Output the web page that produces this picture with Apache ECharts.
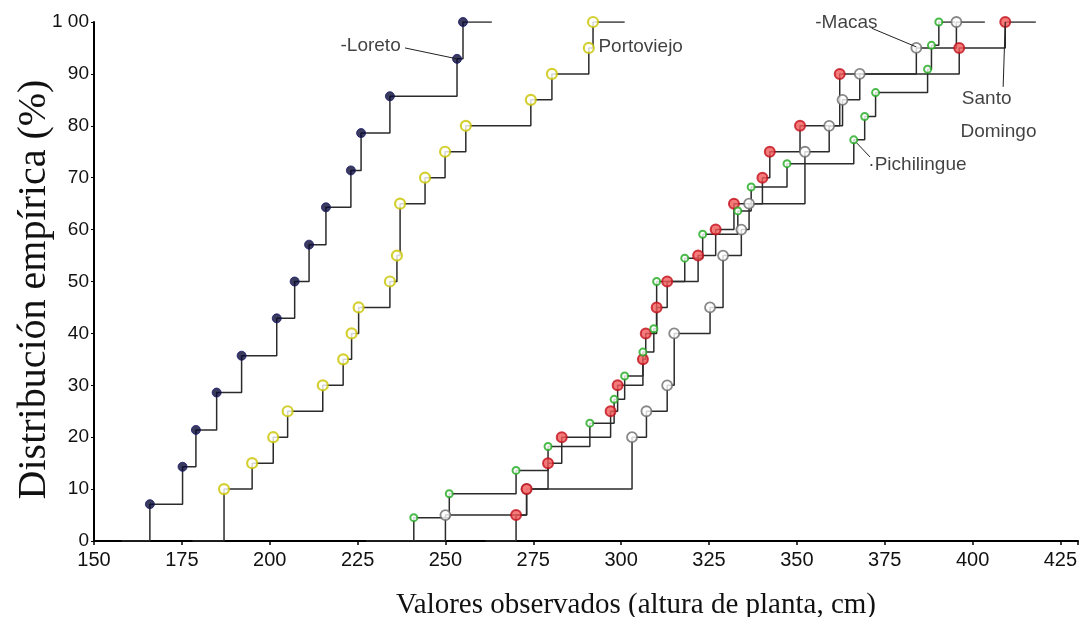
<!DOCTYPE html>
<html><head><meta charset="utf-8">
<script src="https://cdn.jsdelivr.net/npm/echarts@6/dist/echarts.min.js"></script>
<style>html,body{margin:0;padding:0;background:#fff}#c{width:1084px;height:617px}</style>
</head><body><div id="c"></div>
<script>
// ---- data ----
const xTickValues = [150,175,200,225,250,275,300,325,350,375,400,425];
const yTickLabels = ['0','10','20','30','40','50','60','70','80','90','1 00'];

const loretoX = [165.9,175.2,179.0,184.9,192.0,202.0,207.1,211.2,216.0,223.1,226.0,234.2,253.3,255.0];
const loretoP = [7.1,14.3,21.4,28.6,35.7,42.9,50.0,57.1,64.3,71.4,78.6,85.7,92.9,100];
const loretoRange = [157.9,263.2];

const portoviejoX = [187.0,195.0,201.0,205.1,215.1,220.9,223.3,225.3,234.2,236.2,237.1,244.2,249.9,255.8,274.3,280.3,290.8,292.0];
const portoviejoP = [10,15,20,25,30,35,40,45,50,55,65,70,75,80,85,90,95,100];
const portoviejoRange = [178.0,301.0];

const santoDomingoX = [270.1,273.1,279.2,283.1,297.0,299.0,306.2,307.0,310.1,313.1,321.9,326.9,332.1,340.2,342.3,350.9,362.2,396.2,409.3];
const santoDomingoP = [5,10,15,20,25,30,35,40,45,50,55,60,65,70,75,80,90,95,100];
const santoDomingoRange = [261.4,418.0];

const pichilingueX = [241.0,251.1,270.1,279.2,291.1,298.0,301.0,306.2,309.3,310.1,318.1,323.2,333.2,337.0,347.2,366.2,369.3,372.4,387.2,388.3,390.4];
const pichilingueP = [4.5,9.1,13.6,18.2,22.7,27.3,31.8,36.4,40.9,50.0,54.5,59.1,63.6,68.2,72.7,77.3,81.8,86.4,90.9,95.5,100];
const pichilingueRange = [227.4,395.0];

const macasX = [250.0,273.1,303.1,307.2,313.1,315.1,325.3,329.0,334.2,336.4,352.3,359.2,363.0,367.9,384.0,395.4];
const macasP = [5,10,20,25,30,40,45,55,60,65,75,80,85,90,95,100];
const macasRange = [241.0,403.5];

// ---- chart ----
const sansNarrow = '"Liberation Sans Narrow", "Liberation Sans", Arial, sans-serif';
const serif = '"Liberation Serif", "DejaVu Serif", serif';

function pts(xs, ps){ return xs.map((x,i)=>[x, ps[i]]); }
function steps(range, xs, ps){ return [[range[0],0]].concat(pts(xs,ps)).concat([[range[1],100]]); }

const lineColor = '#2b2b2b';
function stepSeries(name, range, xs, ps, z){
  return {type:'line', name:name+'-step', step:'end', data:steps(range,xs,ps), showSymbol:false, symbol:'none',
    lineStyle:{color:lineColor, width:1.5}, z:z, silent:true, animation:false};
}
function pointSeries(name, xs, ps, size, style, z){
  return {type:'scatter', name:name, data:pts(xs,ps), symbol:'circle', symbolSize:size, itemStyle:style, z:z, animation:false};
}
function leader(a, b){
  return {type:'line', data:[a,b], showSymbol:false, symbol:'none', lineStyle:{color:'#222', width:1}, z:6, silent:true, animation:false};
}
function note(text, at){
  return {type:'scatter', data:[at], symbolSize:1, itemStyle:{color:'transparent'}, z:7, silent:true, animation:false,
    label:{show:true, position:'right', distance:0, formatter:text, color:'#111', fontSize:19, fontFamily:sansNarrow}};
}

const chart = echarts.init(document.getElementById('c'), null, {renderer:'canvas'});
chart.setOption({
  backgroundColor:'#fff',
  animation:false,
  grid:{left:94, right:6, top:22, bottom:76, containLabel:false, outerBoundsMode:'none'},
  xAxis:{type:'value', min:150, max:430, interval:25,
    name:'Valores observados (altura de planta, cm)', nameLocation:'middle', nameGap:50, nameMoveOverlap:false,
    nameTextStyle:{fontFamily:serif, fontSize:29, color:'#111', padding:[0,0,0,100]},
    axisLine:{lineStyle:{color:'#000', width:2}},
    axisTick:{length:4, lineStyle:{color:'#000', width:1.5}},
    axisLabel:{margin:9, color:'#111', fontSize:20, fontFamily:sansNarrow,
      formatter:v=> xTickValues.indexOf(v) >= 0 ? String(v) : ''},
    splitLine:{show:false}},
  yAxis:{type:'value', min:0, max:100, interval:10,
    name:'Distribución empírica (%)', nameLocation:'middle', nameGap:40, nameRotate:90, nameMoveOverlap:false,
    nameTextStyle:{fontFamily:serif, fontSize:40, color:'#111', padding:[0,16,0,0]},
    axisLine:{show:true, lineStyle:{color:'#000', width:2}},
    axisTick:{show:true, length:3, lineStyle:{color:'#000', width:1}},
    axisLabel:{margin:5, color:'#111', fontSize:19, fontFamily:sansNarrow,
      formatter:v=> yTickLabels[Math.round(v/10)] || ''},
    splitLine:{show:false}},
  series:[
    stepSeries('Loreto', loretoRange, loretoX, loretoP, 2),
    stepSeries('Portoviejo', portoviejoRange, portoviejoX, portoviejoP, 2),
    stepSeries('Macas', macasRange, macasX, macasP, 2),
    stepSeries('Santo Domingo', santoDomingoRange, santoDomingoX, santoDomingoP, 2),
    stepSeries('Pichilingue', pichilingueRange, pichilingueX, pichilingueP, 2),
    pointSeries('Loreto', loretoX, loretoP, 9, {color:'#0a0a36', borderColor:'#16166a', borderWidth:1}, 4),
    pointSeries('Portoviejo', portoviejoX, portoviejoP, 10, {color:'#fff', borderColor:'#c9c400', borderWidth:2.2}, 4),
    pointSeries('Macas', macasX, macasP, 10, {color:'#fff', borderColor:'#6a6a6a', borderWidth:1.8}, 4),
    pointSeries('Santo Domingo', santoDomingoX, santoDomingoP, 10, {color:'#f25a5a', borderColor:'#c2101c', borderWidth:2}, 5),
    pointSeries('Pichilingue', pichilingueX, pichilingueP, 7, {color:'#fff', borderColor:'#1faa1f', borderWidth:2}, 6),
    leader([238.5,95.0],[253.3,92.9]),
    leader([371.3,98.8],[384.0,95.2]),
    leader([409.3,100],[408.7,87.5]),
    leader([366.2,77.3],[370.8,74.0]),
    note('-Loreto', [220.0,95.4]),
    note('Portoviejo', [293.4,95.2]),
    note('-Macas', [355.1,99.9]),
    note('Santo', [396.8,85.3]),
    note('Domingo', [396.4,78.9]),
    note('·Pichilingue', [370.2,72.4])
  ]
});
</script></body></html>
